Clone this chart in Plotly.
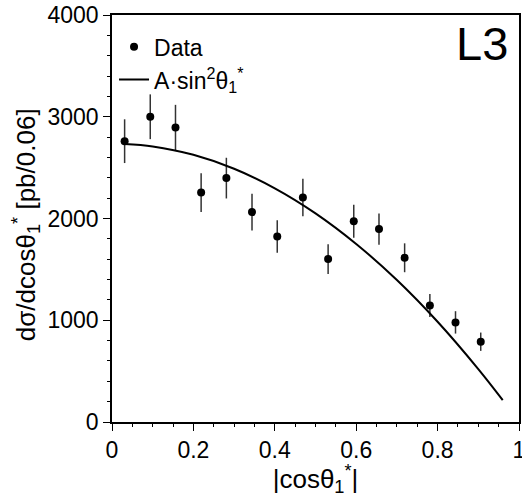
import plotly.graph_objects as go

# Data points
cos_x = [0.031, 0.094, 0.156, 0.219, 0.281, 0.344, 0.406, 0.469, 0.531, 0.594, 0.656, 0.719, 0.781, 0.844, 0.906]
dsig = [2760, 3000, 2895, 2255, 2397, 2063, 1823, 2206, 1601, 1974, 1896, 1614, 1146, 979, 789]
dsig_err = [215, 220, 222, 190, 200, 180, 160, 185, 146, 162, 154, 142, 113, 110, 90]

# Fit curve
fit_x = [0.031, 0.1, 0.2, 0.3, 0.4, 0.5, 0.6, 0.7, 0.8, 0.9, 0.96]
fit_y = [2732, 2708, 2626, 2489, 2297, 2051, 1750, 1395, 985, 520, 215]

x_ticks = [0, 0.2, 0.4, 0.6, 0.8, 1]
x_tick_labels = ["0", "0.2", "0.4", "0.6", "0.8", "1"]
y_ticks = [0, 1000, 2000, 3000, 4000]
y_tick_labels = ["0", "1000", "2000", "3000", "4000"]

FONT = "Liberation Sans, Arial, Helvetica, sans-serif"

fig = go.Figure()
fig.add_trace(go.Scatter(
    x=cos_x, y=dsig, mode="markers", name="Data",
    marker=dict(color="black", size=8),
    error_y=dict(type="data", array=dsig_err, color="#333333", thickness=1.5, width=0),
))
fig.add_trace(go.Scatter(
    x=fit_x, y=fit_y, mode="lines", name="A·sin<sup>2</sup>θ<sub>1</sub><sup>*</sup>",
    line=dict(color="black", width=2, shape="spline"),
))

fig.add_annotation(
    x=0.978, y=1.0, xref="paper", yref="paper", xanchor="right", yanchor="top",
    text="L3", showarrow=False, font=dict(family=FONT, size=47, color="black"),
)

# y-axis title as a rotated annotation for exact placement
fig.add_annotation(
    x=-0.211, y=0.484, xref="paper", yref="paper", xanchor="center", yanchor="middle",
    textangle=-90, showarrow=False,
    text="dσ/dcosθ<sub>1</sub><sup>*</sup> [pb/0.06]",
    font=dict(family=FONT, size=26, color="black"),
)

axis_common = dict(
    showline=True, linecolor="black", linewidth=1.5, mirror=True,
    ticks="outside", tickcolor="black", tickwidth=1.2, ticklen=7,
    showgrid=False, zeroline=False, ticklabeloverflow="allow", automargin=False,
    tickfont=dict(family=FONT, size=23, color="black"),
)

fig.update_xaxes(
    range=[0, 1], tickvals=x_ticks, ticktext=x_tick_labels,
    minor=dict(dtick=0.05, ticks="outside", ticklen=3, tickcolor="black", tickwidth=1.2),
    title=dict(text="|cosθ<sub>1</sub><sup>*</sup>|", font=dict(family=FONT, size=26, color="black"), standoff=9),
    **axis_common,
)
fig.update_yaxes(
    range=[0, 4000], tickvals=y_ticks, ticktext=y_tick_labels,
    minor=dict(dtick=200, ticks="outside", ticklen=3, tickcolor="black", tickwidth=1.2),
    **axis_common,
)

fig.update_layout(
    width=522, height=497,
    margin=dict(l=112, r=3, t=15, b=75, autoexpand=False),
    paper_bgcolor="white", plot_bgcolor="white",
    font=dict(family=FONT, color="black"),
    showlegend=True,
    legend=dict(x=0.005, y=0.975, xanchor="left", yanchor="top",
                font=dict(family=FONT, size=23, color="black"),
                bgcolor="rgba(0,0,0,0)", itemwidth=30, tracegroupgap=0),
)

fig.write_html(
    "out.html",
    config={"displayModeBar": False},
    post_script="document.body.style.margin='0px';document.body.style.overflow='hidden';"
                "document.documentElement.style.overflow='hidden';",
)
